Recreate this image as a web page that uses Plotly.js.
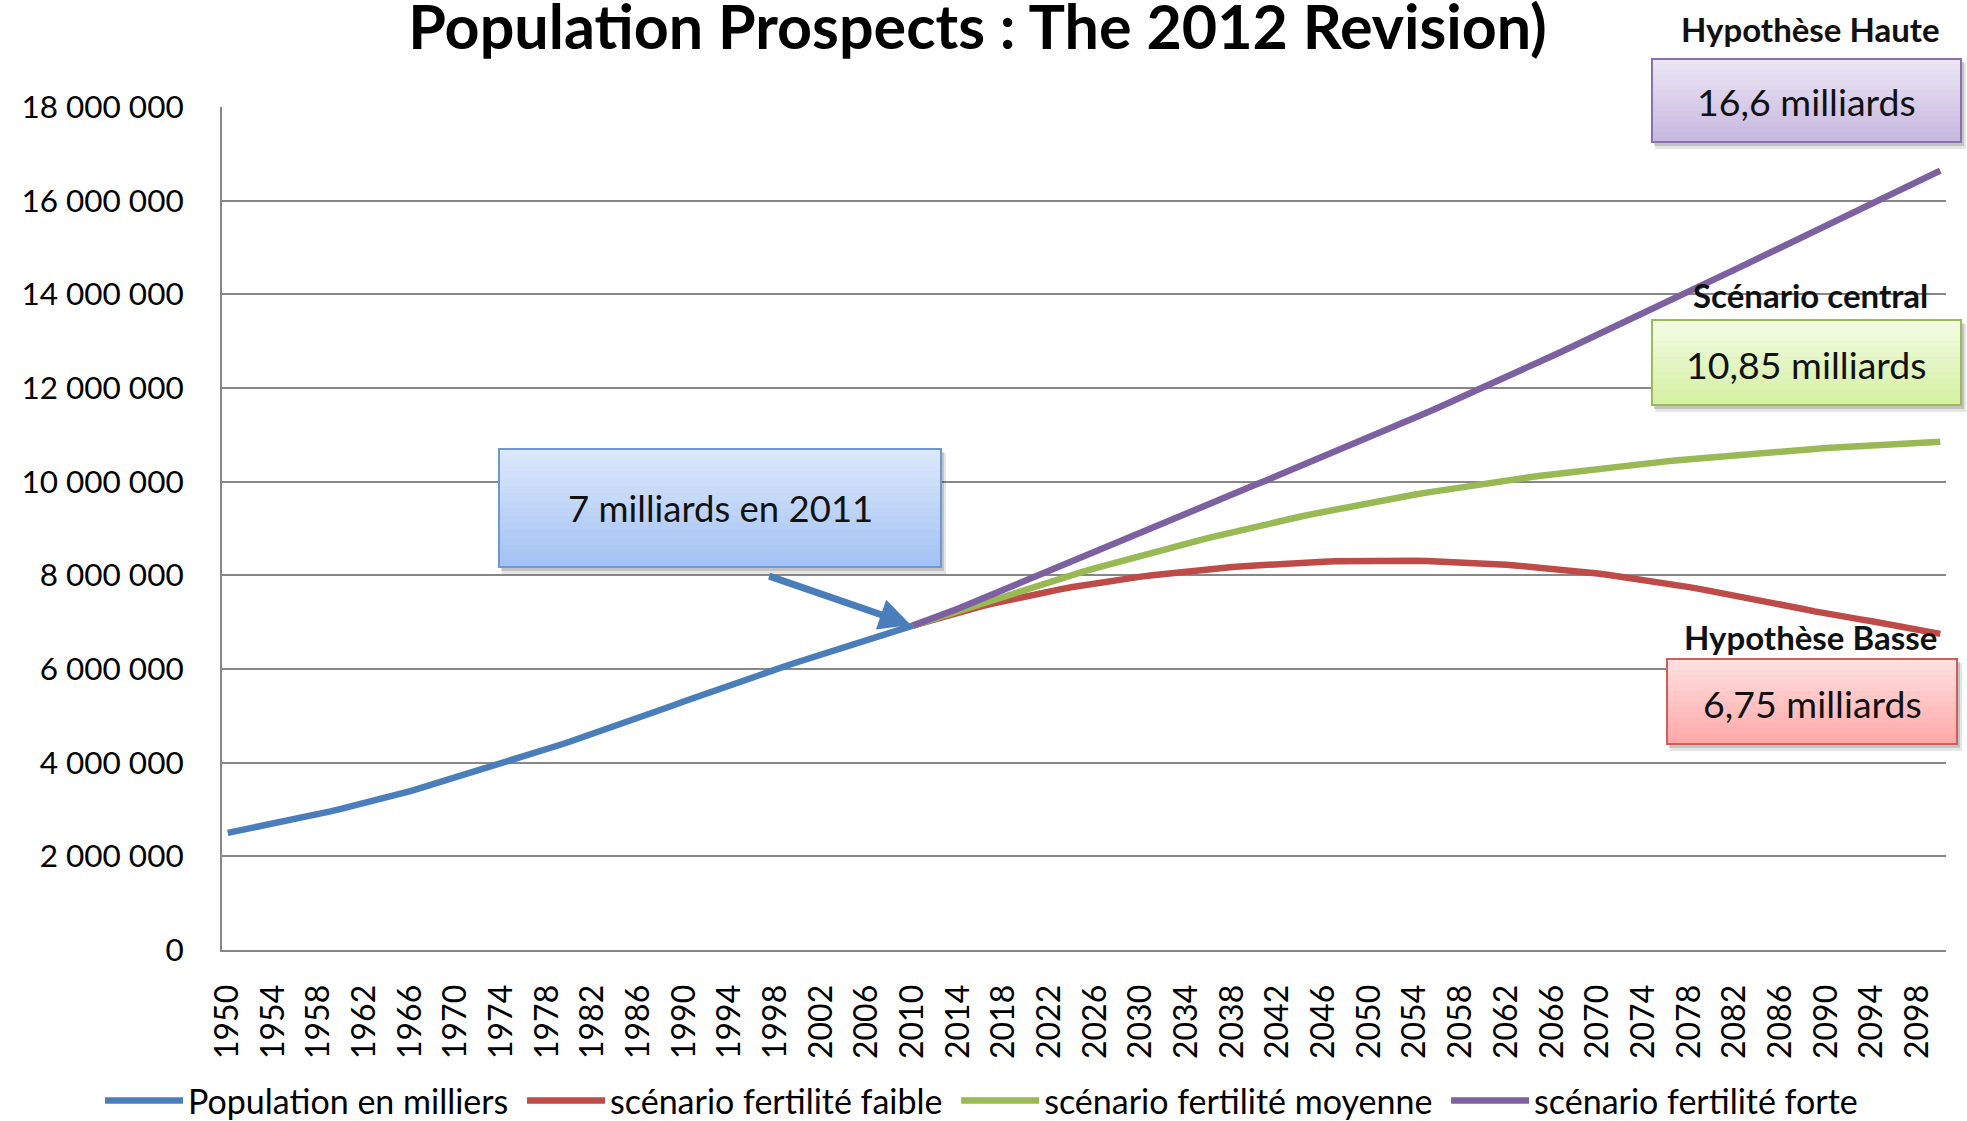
<!DOCTYPE html>
<html>
<head>
<meta charset="utf-8">
<script src="https://cdn.plot.ly/plotly-3.0.1.min.js"></script>
<style>html,body{margin:0;padding:0;background:#fff;}#chart{width:1967px;height:1121px;}</style>
</head>
<body>
<div id="chart"></div>
<script>
// ---------- DATA ----------
const histYears = [];
for (let y = 1950; y <= 2010; y++) histYears.push(y);
const projYears = [];
for (let y = 2010; y <= 2100; y++) projYears.push(y);

const populationHistory = [
  2500000, 2548000, 2597000, 2646000, 2696000, 2746000, 2798000, 2851000, 2905000, 2960000,
  3017000, 3074000, 3133000, 3195000, 3259000, 3325000, 3394000, 3465000, 3538000, 3612000,
  3688000, 3764000, 3840000, 3916000, 3992000, 4068000, 4143000, 4218000, 4294000, 4372000,
  4451000, 4533000, 4616000, 4700000, 4785000, 4871000, 4958000, 5045000, 5132000, 5220000,
  5310000, 5398000, 5485000, 5571000, 5656000, 5740000, 5824000, 5908000, 5992000, 6074000,
  6155000, 6235000, 6314000, 6392000, 6469000, 6546000, 6622000, 6698000, 6774000, 6850000,
  6926000
];

const lowFertility = [
  6926000, 7000000, 7072000, 7142000, 7210000, 7276000, 7339000, 7399000, 7456000, 7510000,
  7562000, 7612000, 7660000, 7706000, 7750000, 7792000, 7832000, 7870000, 7906000, 7940000,
  7972000, 8003000, 8032000, 8060000, 8086000, 8111000, 8134000, 8156000, 8177000, 8196000,
  8214000, 8230000, 8245000, 8259000, 8271000, 8282000, 8292000, 8300000, 8306000, 8311000,
  8314000, 8316000, 8316000, 8314000, 8311000, 8306000, 8299000, 8291000, 8281000, 8269000,
  8256000, 8241000, 8225000, 8207000, 8187000, 8166000, 8143000, 8119000, 8093000, 8066000,
  8037000, 8006000, 7974000, 7940000, 7905000, 7868000, 7830000, 7790000, 7749000, 7706000,
  7662000, 7617000, 7570000, 7522000, 7476000, 7430000, 7380000, 7330000, 7280000, 7230000,
  7180000, 7140000, 7100000, 7060000, 7020000, 6980000, 6935000, 6890000, 6845000, 6798000,
  6750000
];

const mediumFertility = [
  6926000, 7005000, 7086000, 7166000, 7246000, 7326000, 7404000, 7483000, 7561000, 7639000,
  7717000, 7792000, 7866000, 7939000, 8011000, 8083000, 8153000, 8222000, 8290000, 8358000,
  8425000, 8490000, 8554000, 8618000, 8681000, 8743000, 8804000, 8864000, 8923000, 8981000,
  9039000, 9094000, 9149000, 9203000, 9256000, 9308000, 9358000, 9408000, 9456000, 9504000,
  9551000, 9596000, 9640000, 9683000, 9725000, 9766000, 9806000, 9845000, 9883000, 9920000,
  9957000, 9992000, 10027000, 10061000, 10094000, 10127000, 10158000, 10189000, 10219000, 10248000,
  10277000, 10304000, 10331000, 10357000, 10383000, 10409000, 10433000, 10457000, 10480000, 10502000,
  10524000, 10545000, 10566000, 10586000, 10606000, 10626000, 10645000, 10663000, 10681000, 10699000,
  10717000, 10733000, 10749000, 10764000, 10779000, 10794000, 10807000, 10820000, 10832000, 10843000,
  10854000
];

const highFertility = [
  6926000, 7010000, 7100000, 7193000, 7290000, 7392000, 7494000, 7597000, 7700000, 7804000,
  7908000, 8014000, 8120000, 8226000, 8332000, 8437000, 8540000, 8643000, 8745000, 8847000,
  8948000, 9047000, 9146000, 9244000, 9342000, 9440000, 9538000, 9636000, 9734000, 9833000,
  9932000, 10032000, 10132000, 10232000, 10333000, 10434000, 10536000, 10638000, 10740000, 10843000,
  10946000, 11051000, 11155000, 11260000, 11365000, 11471000, 11577000, 11684000, 11791000, 11898000,
  12006000, 12118000, 12230000, 12343000, 12456000, 12569000, 12682000, 12795000, 12908000, 13021000,
  13134000, 13249000, 13364000, 13479000, 13594000, 13710000, 13826000, 13942000, 14058000, 14175000,
  14292000, 14409000, 14527000, 14645000, 14763000, 14881000, 15000000, 15119000, 15238000, 15357000,
  15477000, 15597000, 15718000, 15839000, 15960000, 16082000, 16193000, 16304000, 16416000, 16528000,
  16641000
];

const seriesNames = [
  "Population en milliers",
  "scénario fertilité faible",
  "scénario fertilité moyenne",
  "scénario fertilité forte"
];
const seriesColors = ["#4A7EBB", "#BE4B48", "#98B954", "#7D60A0"];

const titleText = "Population Prospects : The 2012 Revision)";
const calloutMain = "7 milliards en 2011";
const labelHigh = "Hypothèse Haute";
const valueHigh = "16,6 milliards";
const labelMid = "Scénario central";
const valueMid = "10,85 milliards";
const labelLow = "Hypothèse Basse";
const valueLow = "6,75 milliards";

// ---------- LAYOUT HELPERS ----------
const W = 1967, H = 1121;
const M = {l: 222, r: 21, t: 107, b: 171, autoexpand: false};
const PW = W - M.l - M.r, PH = H - M.t - M.b;
const px = x => (x - M.l) / PW;
const py = y => (H - M.b - y) / PH;
const FONT = "Lato, Carlito, Calibri, 'Open Sans', sans-serif";

function hex2rgb(h){h=h.replace('#','');return [parseInt(h.substr(0,2),16),parseInt(h.substr(2,2),16),parseInt(h.substr(4,2),16)];}
function mix(a,b,t){const A=hex2rgb(a),B=hex2rgb(b);return 'rgb('+A.map((v,i)=>Math.round(v+(B[i]-v)*t)).join(',')+')';}

const shapes = [];
function gradBox(x0,y0,x1,y1,top,bot,border){
  shapes.push({type:'rect',xref:'paper',yref:'paper',x0:px(x0+3),x1:px(x1+5),y0:py(y0+4),y1:py(y1+7),
    fillcolor:'rgba(0,0,0,0.10)',line:{width:0},layer:'above'});
  shapes.push({type:'rect',xref:'paper',yref:'paper',x0:px(x0+2),x1:px(x1+3),y0:py(y0+3),y1:py(y1+4),
    fillcolor:'rgba(0,0,0,0.15)',line:{width:0},layer:'above'});
  const N = 16;
  for(let i=0;i<N;i++){
    const a = y0 + (y1-y0)*i/N, b = y0 + (y1-y0)*(i+1)/N;
    shapes.push({type:'rect',xref:'paper',yref:'paper',x0:px(x0),x1:px(x1),y0:py(a),y1:py(b+0.6),
      fillcolor:mix(top,bot,(i+0.5)/N),line:{width:0},layer:'above'});
  }
  shapes.push({type:'rect',xref:'paper',yref:'paper',x0:px(x0),x1:px(x1),y0:py(y0),y1:py(y1),
    fillcolor:'rgba(0,0,0,0)',line:{color:border,width:2},layer:'above'});
}
gradBox(499,449,941,567,'#dde9fc','#a2c1f3','#6b98d6');
gradBox(1652,59,1961,142,'#ede7f5','#c6b6df','#8b70b0');
gradBox(1652,320,1961,405,'#f4fbe7','#d4f0a0','#9bbb59');
gradBox(1667,659,1957,744,'#ffe1e1','#ffa7a7','#cc5f5c');

const annotations = [
  {xref:'paper',yref:'paper',x:px(720),y:py(508),text:calloutMain,showarrow:false,
   font:{family:FONT,size:36.5,color:'#111'},xanchor:'center',yanchor:'middle'},
  {xref:'paper',yref:'paper',x:px(1806),y:py(101),text:valueHigh,showarrow:false,
   font:{family:FONT,size:37.5,color:'#111'},xanchor:'center',yanchor:'middle'},
  {xref:'paper',yref:'paper',x:px(1806),y:py(364),text:valueMid,showarrow:false,
   font:{family:FONT,size:37.5,color:'#111'},xanchor:'center',yanchor:'middle'},
  {xref:'paper',yref:'paper',x:px(1812),y:py(703),text:valueLow,showarrow:false,
   font:{family:FONT,size:37.5,color:'#111'},xanchor:'center',yanchor:'middle'},
  {xref:'paper',yref:'paper',x:px(1810),y:py(29),text:'<b>'+labelHigh+'</b>',showarrow:false,
   font:{family:FONT,size:33,color:'#111'},xanchor:'center',yanchor:'middle'},
  {xref:'paper',yref:'paper',x:px(1810),y:py(295),text:'<b>'+labelMid+'</b>',showarrow:false,
   font:{family:FONT,size:33,color:'#111'},xanchor:'center',yanchor:'middle'},
  {xref:'paper',yref:'paper',x:px(1810),y:py(637),text:'<b>'+labelLow+'</b>',showarrow:false,
   font:{family:FONT,size:33,color:'#111'},xanchor:'center',yanchor:'middle'},
  {x:histYears[histYears.length-1],y:populationHistory[populationHistory.length-1],xref:'x',yref:'y',
   text:'',showarrow:true,ax:-145,ay:-50,arrowcolor:'#4A7EBB',arrowwidth:7,arrowhead:2,arrowsize:0.9,standoff:2}
];

const PAD = '\u00a0';
const traces = [
  {x:histYears,y:populationHistory,name:seriesNames[0]+PAD},
  {x:projYears,y:lowFertility,name:seriesNames[1]+PAD},
  {x:projYears,y:mediumFertility,name:seriesNames[2]+PAD},
  {x:projYears,y:highFertility,name:seriesNames[3]}
].map((t,i)=>Object.assign(t,{type:'scatter',mode:'lines',
  line:{color:seriesColors[i],width:6.5},hoverinfo:'skip'}));

const layout = {
  width:W,height:H,
  margin:M,
  paper_bgcolor:'#fff',plot_bgcolor:'#fff',
  separators:', ',
  font:{family:FONT,size:31,color:'#000'},
  title:{text:'<b>'+titleText+'</b>',font:{family:FONT,size:61,color:'#000'},
    xref:'container',yref:'container',x:0.497,xanchor:'center',y:1-28/H,yanchor:'middle'},
  xaxis:{range:[1949.5,2100.5],tickmode:'linear',tick0:1950,dtick:4,tickangle:-90,
    showgrid:false,zeroline:false,showline:true,linecolor:'#878787',linewidth:2,automargin:false,
    ticks:'',ticklabelstandoff:20,tickfont:{family:FONT,size:32,color:'#000'},fixedrange:true},
  yaxis:{range:[0,18000000],tickmode:'linear',tick0:0,dtick:2000000,tickformat:',d',automargin:false,
    showgrid:true,gridcolor:'#878787',gridwidth:2,zeroline:false,showline:true,linecolor:'#878787',linewidth:2,
    ticks:'',ticklabelstandoff:30,tickfont:{family:FONT,size:31.5,color:'#000'},fixedrange:true},
  showlegend:true,
  legend:{orientation:'h',x:px(100),xanchor:'left',y:py(1101),yanchor:'middle',
    font:{family:FONT,size:34,color:'#000'},itemwidth:78,tracegroupgap:0,bgcolor:'rgba(0,0,0,0)'},
  shapes:shapes,
  annotations:annotations
};

Plotly.newPlot('chart',traces,layout,{staticPlot:true,displayModeBar:false});
</script>
</body>
</html>
